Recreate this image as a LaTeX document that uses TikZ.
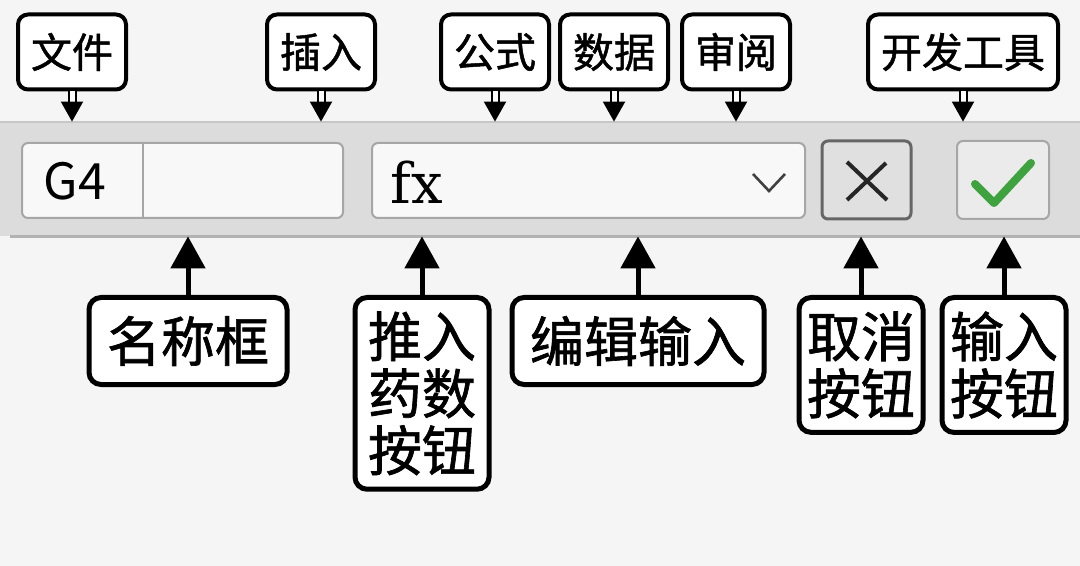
\documentclass[tikz,border=0pt]{standalone}
\usepackage{fontspec}
\newfontfamily\cjk{Noto Sans CJK SC}
\newfontfamily\cjklab{Noto Sans CJK SC}[FakeBold=1.2]
\newfontfamily\fxfont{DejaVu Serif}
\usetikzlibrary{arrows.meta}
\definecolor{pagebg}{HTML}{F5F5F5}
\definecolor{barbg}{HTML}{DCDCDC}
\definecolor{fieldbg}{HTML}{F8F8F8}
\definecolor{okgreen}{HTML}{3EA33E}
\tikzset{
  toplab/.style={draw, line width=2pt, rounded corners=5pt, fill=white, inner xsep=6.5pt,
    minimum height=37.5pt, font=\cjklab\fontsize{20.5}{24}\selectfont},
  botlab/.style={draw, line width=2.5pt, rounded corners=6pt, fill=white, inner xsep=9pt,
    inner ysep=7pt, minimum height=43.5pt, align=center, anchor=north,
    font=\cjklab\fontsize{27}{28.5}\selectfont},
  dnarrow/.style={double=white, double distance=2.5pt, line width=1pt,
    -{Triangle[width=11pt,length=10pt]}},
  uparrow/.style={line width=2.5pt, -{Triangle[width=17pt,length=16pt]}},
  field/.style={draw=black!35, line width=1pt, rounded corners=3pt, fill=fieldbg},
}
\begin{document}
\begin{tikzpicture}[x=0.5pt,y=-0.5pt]
\useasboundingbox (0,0) rectangle (1080,566);
\fill[pagebg] (0,0) rectangle (1080,566);
% toolbar band
\node[fill=barbg, minimum width=540pt, minimum height=57pt, inner sep=0pt] (bar) at (540,179) {};
\draw[black!22, line width=1pt] (bar.north west) -- (bar.north east);
\draw[black!30, line width=1.5pt] ([xshift=5pt]bar.south west) -- (bar.south east);
% name box
\draw[field] (22,143) rectangle (343,218);
\draw[black!35, line width=1pt] (143,143) -- (143,218);
\node[font=\cjk\fontsize{25}{30}\selectfont] (cell) at (75,181) {G4};
% formula box
\draw[field] (372,143) rectangle (805,218);
\node[font=\fxfont\fontsize{28}{32}\selectfont] (fx) at (417,182) {fx};
\draw[black!75, line width=1.3pt] (753,174) -- (769,191) -- (785,174);
% cancel / enter
\draw[field, fill=black!12, draw=black!60, line width=1.5pt] (822,141) rectangle (911,219);
\draw[black!85, line width=2pt] (847,162) -- (887,200) (886,163) -- (847,200);
\draw[field, fill=black!8] (957,141) rectangle (1049,219);
\draw[okgreen, line width=4pt, line cap=round, line join=round] (975,184) -- (994,203) -- (1031,163);
% labels above
\foreach \n/\x/\t in {file/72/文件, insert/321/插入, formula/495/公式, data/614/数据, review/736/审阅, dev/963/开发工具} {
  \node[toplab] (\n) at (\x,52) {\t};
  \draw[dnarrow] (\n.south) -- (\n.south |- bar.north);
}
% labels below
\node[botlab] (namebox) at (188,295) {名称框};
\node[botlab, inner xsep=6.5pt] (fnbtn) at (422,295) {推入\\药数\\按钮};
\node[botlab] (editin) at (638,295) {编辑输入};
\node[botlab, inner xsep=4pt] (cancel) at (861,295) {取消\\按钮};
\node[botlab, inner xsep=4pt] (enter) at (1004,295) {输入\\按钮};
\foreach \n in {namebox, fnbtn, editin, cancel, enter}
  \draw[uparrow] (\n.north) -- (\n.north |- bar.south);
\end{tikzpicture}
\end{document}
